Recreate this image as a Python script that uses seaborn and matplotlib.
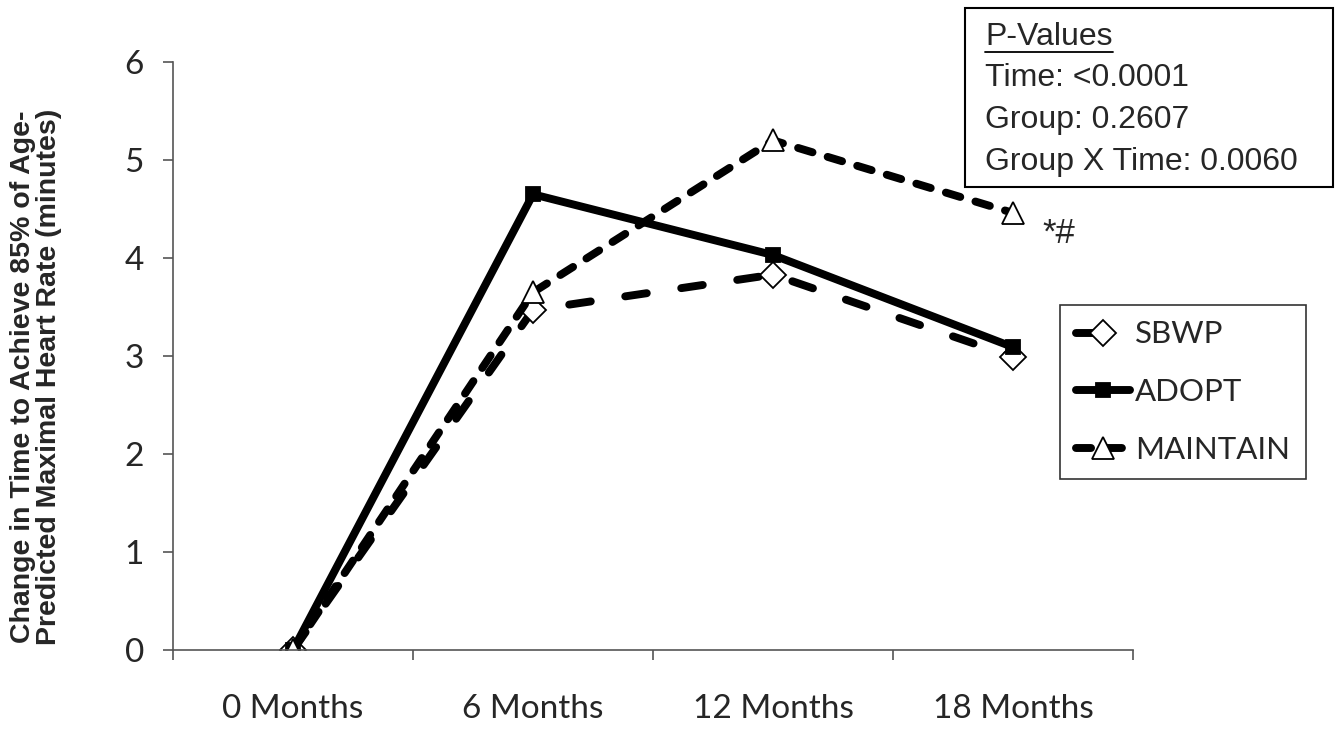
import matplotlib
matplotlib.use("Agg")
import matplotlib.pyplot as plt
import seaborn as sns
import pandas as pd
from matplotlib.ticker import FixedLocator

categories = ["0 Months", "6 Months", "12 Months", "18 Months"]
sbwp = [0.0, 3.47, 3.83, 2.99]
adopt = [0.0, 4.65, 4.03, 3.09]
maintain = [0.0, 3.65, 5.20, 4.46]
series_names = ["SBWP", "ADOPT", "MAINTAIN"]
yticks = [0, 1, 2, 3, 4, 5, 6]

sns.set_theme(style="white")
plt.rcParams["font.family"] = ["Lato", "DejaVu Sans"]

rows = []
for name, vals in zip(series_names, [sbwp, adopt, maintain]):
    for i, v in enumerate(vals):
        rows.append({"x": i, "label": categories[i], "value": v, "group": name})
df = pd.DataFrame(rows)

fig = plt.figure(figsize=(13.39, 7.30), dpi=100)
ax = fig.add_axes([0.1292, 0.1096, 0.7170, 0.8055])

LW = 5.7
styles = {
    "SBWP": dict(marker="D", mfc="white", ms=13, dashes=(2.75, 4.4)),
    "ADOPT": dict(marker="s", mfc="black", ms=10.5, dashes=None),
    "MAINTAIN": dict(marker="^", mfc="white", ms=16, dashes=(1.9, 2.0)),
}

handles = []
for name in series_names:
    st = styles[name]
    sub = df[df["group"] == name]
    sns.lineplot(data=sub, x="x", y="value", ax=ax, color="black", linewidth=LW,
                 marker=st["marker"], markersize=st["ms"], markerfacecolor=st["mfc"],
                 markeredgecolor="black", markeredgewidth=1.3, label=name,
                 legend=False)
    ln = ax.lines[-1]
    ln.set_solid_capstyle("round")
    if st["dashes"] is not None:
        ln.set_dashes(st["dashes"])
    ln.set_dash_capstyle("round")
    ln.set_markerfacecolor(st["mfc"])
    handles.append(ln)

ax.set_xlim(-0.5, 3.5)
ax.set_ylim(0, 6)
ax.set_yticks(yticks)
ax.set_yticklabels([str(t) for t in yticks], fontsize=24)
ax.set_xticks(range(len(categories)))
ax.set_xticklabels(categories, fontsize=24)
ax.xaxis.set_minor_locator(FixedLocator([-0.5, 0.5, 1.5, 2.5, 3.5]))
ax.tick_params(axis="x", which="major", length=0, pad=32)
ax.tick_params(axis="x", which="minor", length=7, width=1.2, color="#555555", direction="out", bottom=True)
ax.tick_params(axis="y", which="major", length=7, width=1.2, color="#555555", direction="out", left=True, pad=14)
for s in ["top", "right"]:
    ax.spines[s].set_visible(False)
for s in ["left", "bottom"]:
    ax.spines[s].set_color("#555555")
    ax.spines[s].set_linewidth(1.2)
ax.set_xlabel("")
ax.set_ylabel("Change in Time to Achieve 85% of Age-\nPredicted Maximal Heart Rate (minutes)",
              fontsize=20.5, fontweight="bold", family="Liberation Sans",
              linespacing=0.98)
ax.yaxis.set_label_coords(-0.116, 0.465)

leg = ax.legend(handles=handles, labels=series_names, loc="upper left",
                bbox_to_anchor=(0.924, 0.587), frameon=True, fancybox=False,
                fontsize=22.5, handlelength=1.75, handletextpad=0.15,
                labelspacing=0.95, borderpad=0.5, borderaxespad=0,
                edgecolor="black")
leg.get_frame().set_linewidth(1.2)

# P-values box
fig.patches.append(plt.Rectangle((965 / 1339, 1 - 187 / 730), 368 / 1339, 179 / 730,
                                 transform=fig.transFigure, fill=False,
                                 edgecolor="black", linewidth=1.5))
ptxt = ["Time: <0.0001", "Group: 0.2607", "Group X Time: 0.0060"]
fig.text(985 / 1339, 1 - 37 / 730, "P-Values", fontsize=23, family="Liberation Sans",
         va="center", ha="left")
fig.add_artist(plt.Line2D([985 / 1339, 1113 / 1339], [1 - 52 / 730, 1 - 52 / 730],
                          transform=fig.transFigure, color="black", linewidth=1.3))
for i, t in enumerate(ptxt):
    fig.text(985 / 1339, 1 - (78 + i * 42) / 730, t, fontsize=23,
             family="Liberation Sans", va="center", ha="left")

ax.annotate("*#", xy=(3, maintain[3]), xytext=(21, -15), textcoords="offset points",
            fontsize=25, family="Liberation Sans", va="center", ha="left")

fig.savefig("out.png", dpi=100)
